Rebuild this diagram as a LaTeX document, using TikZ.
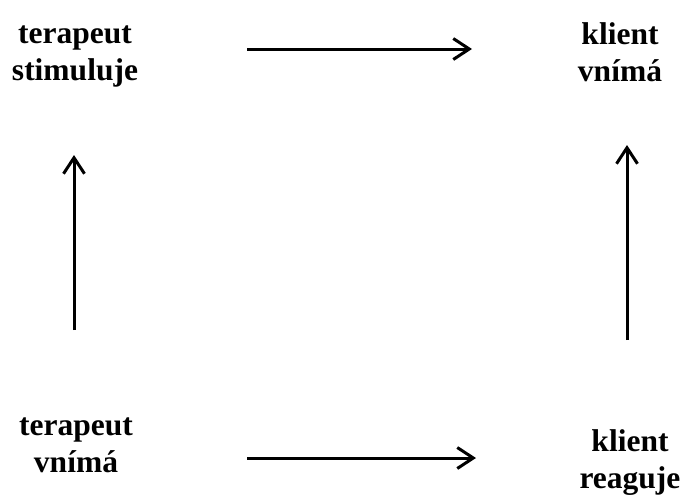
\documentclass[tikz,border=0pt]{standalone}
\usepackage{fontspec}
\setmainfont{Liberation Serif}
\usetikzlibrary{arrows.meta,positioning}

\tikzset{
	label/.style={align=center, font=\fontsize{31.5}{37}\selectfont\bfseries, inner sep=0pt},
	flow/.style={line width=3pt, -{Straight Barb[length=16pt,width=21pt]}}
}

\begin{document}
\begin{tikzpicture}[x=1pt,y=-1pt]
	
	\useasboundingbox (0,0) rectangle (686,499);

	\node[label] (tstim) at (75,56) {terapeut\\stimuluje};
	\node[label] (kvnim) at (620,52) {klient\\vnímá};
	\node[label] (tvnim) at (76,445) {terapeut\\vnímá};
	\node[label] (kreag) at (630,463) {klient\\reaguje};

	\coordinate (top1) at (247,49);
	\coordinate (top2) at (472,49);
	\coordinate (bot1) at (247,458);
	\coordinate (bot2) at (476,458);
	\coordinate (lft1) at (74,330);
	\coordinate (lft2) at (74,155);
	\coordinate (rgt1) at (627,340);
	\coordinate (rgt2) at (627,145);

	\draw[flow] (top1) -- (top2);
	\draw[flow] (bot1) -- (bot2);
	\draw[flow] (lft1) -- (lft2);
	\draw[flow] (rgt1) -- (rgt2);

\end{tikzpicture}
\end{document}
